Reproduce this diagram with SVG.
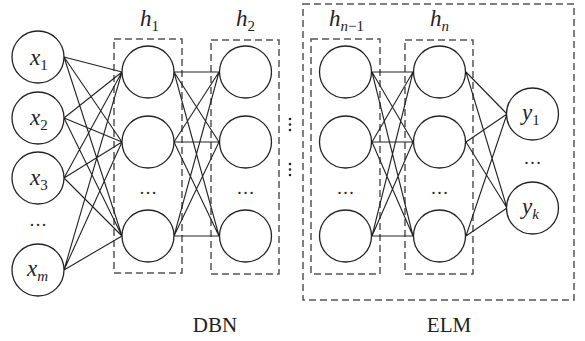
<svg xmlns="http://www.w3.org/2000/svg" width="585" height="341" viewBox="0 0 585 341">
  <style>
    .node { fill: #fff; stroke: #222; stroke-width: 1.3; }
    .box { fill: none; stroke: #555; stroke-width: 1.5; stroke-dasharray: 7 4; }
    .edge { stroke: #222; stroke-width: 1.1; fill: none; }
    .lab { font-family: "Liberation Serif", "Times New Roman", serif; font-style: italic; font-size: 23px; fill: #222; }
    .sub { font-size: 15px; }
    .num { font-style: normal; }
    .cap { font-family: "Liberation Serif", "Times New Roman", serif; font-size: 21px; fill: #222; text-anchor: middle; }
    .dots { font-family: "Liberation Serif", "Times New Roman", serif; font-size: 18px; fill: #222; text-anchor: middle; }
  </style>
  <rect width="585" height="341" fill="#fff"/>

  <!-- group frames -->
  <g id="frames">
    <rect class="box" x="303" y="4" width="271" height="296"/>
    <rect class="box" x="114" y="39" width="68" height="234"/>
    <rect class="box" x="211" y="40" width="68" height="234"/>
    <rect class="box" x="311" y="39" width="69" height="235"/>
    <rect class="box" x="405" y="40" width="68" height="234"/>
  </g>

  <!-- connectors -->
  <g id="connectors">
    <!-- input to h1 -->
    <path class="edge" d="M64 57L122 72M64 57L122 142M64 57L122 236
      M64 118L122 72M64 118L122 142M64 118L122 236
      M64 178L122 72M64 178L122 142M64 178L122 236
      M64 270L122 72M64 270L122 142M64 270L122 236"/>
    <!-- h1 to h2 -->
    <path class="edge" d="M174 72L219 72M174 72L219 142M174 72L219 236
      M174 142L219 72M174 142L219 142M174 142L219 236
      M174 236L219 72M174 236L219 142M174 236L219 236"/>
    <!-- hn-1 to hn -->
    <path class="edge" d="M372 72L413 72M372 72L413 142M372 72L413 236
      M372 142L413 72M372 142L413 142M372 142L413 236
      M372 236L413 72M372 236L413 142M372 236L413 236"/>
    <!-- hn to outputs -->
    <path class="edge" d="M466 72L507 114M466 72L507 208
      M466 142L507 114M466 142L507 208
      M466 236L507 114M466 236L507 208"/>
  </g>

  <!-- input layer -->
  <g id="x1"><circle class="node" cx="38" cy="57" r="26"/><text class="lab" x="30" y="65">x<tspan class="sub num" dy="5">1</tspan></text></g>
  <g id="x2"><circle class="node" cx="38" cy="118" r="26"/><text class="lab" x="30" y="125">x<tspan class="sub num" dy="5">2</tspan></text></g>
  <g id="x3"><circle class="node" cx="38" cy="178" r="26"/><text class="lab" x="30" y="185">x<tspan class="sub num" dy="5">3</tspan></text></g>
  <text class="dots" x="38" y="226">…</text>
  <g id="xm"><circle class="node" cx="38" cy="270" r="26"/><text class="lab" x="27" y="276">x<tspan class="sub" dy="5">m</tspan></text></g>

  <!-- hidden layer h1 -->
  <g id="h1">
    <text class="lab" x="140" y="26">h<tspan class="sub num" dy="5">1</tspan></text>
    <circle class="node" cx="148" cy="72" r="26"/>
    <circle class="node" cx="148" cy="142" r="26"/>
    <text class="dots" x="148" y="194">…</text>
    <circle class="node" cx="148" cy="236" r="26"/>
  </g>

  <!-- hidden layer h2 -->
  <g id="h2">
    <text class="lab" x="236" y="26">h<tspan class="sub num" dy="5">2</tspan></text>
    <circle class="node" cx="245.5" cy="72" r="26"/>
    <circle class="node" cx="245.5" cy="142" r="26"/>
    <text class="dots" x="245.5" y="194">…</text>
    <circle class="node" cx="245.5" cy="236" r="26"/>
  </g>

  <!-- vertical ellipses between stacks -->
  <g id="gap">
    <circle cx="290" cy="119" r="1.3" fill="#222"/>
    <circle cx="290" cy="124.5" r="1.3" fill="#222"/>
    <circle cx="290" cy="130" r="1.3" fill="#222"/>
    <circle cx="290" cy="164" r="1.3" fill="#222"/>
    <circle cx="290" cy="169.5" r="1.3" fill="#222"/>
    <circle cx="290" cy="175" r="1.3" fill="#222"/>
  </g>

  <!-- hidden layer h(n-1) -->
  <g id="hn1">
    <text class="lab" x="329" y="26">h<tspan class="sub" dy="5">n<tspan class="num">−1</tspan></tspan></text>
    <circle class="node" cx="345.5" cy="72" r="26"/>
    <circle class="node" cx="345.5" cy="142" r="26"/>
    <text class="dots" x="345.5" y="194">…</text>
    <circle class="node" cx="345.5" cy="236" r="26"/>
  </g>

  <!-- hidden layer hn -->
  <g id="hn">
    <text class="lab" x="430" y="26">h<tspan class="sub" dy="5">n</tspan></text>
    <circle class="node" cx="439.5" cy="72" r="26"/>
    <circle class="node" cx="439.5" cy="142" r="26"/>
    <text class="dots" x="439.5" y="194">…</text>
    <circle class="node" cx="439.5" cy="236" r="26"/>
  </g>

  <!-- output layer -->
  <g id="y1"><circle class="node" cx="532.5" cy="114" r="26"/><text class="lab" x="522" y="120">y<tspan class="sub num" dy="5">1</tspan></text></g>
  <text class="dots" x="532.5" y="164">…</text>
  <g id="yk"><circle class="node" cx="532.5" cy="208" r="26"/><text class="lab" x="522" y="214">y<tspan class="sub" dy="5">k</tspan></text></g>

  <!-- captions -->
  <text class="cap" x="215" y="332">DBN</text>
  <text class="cap" x="449" y="332">ELM</text>
</svg>
